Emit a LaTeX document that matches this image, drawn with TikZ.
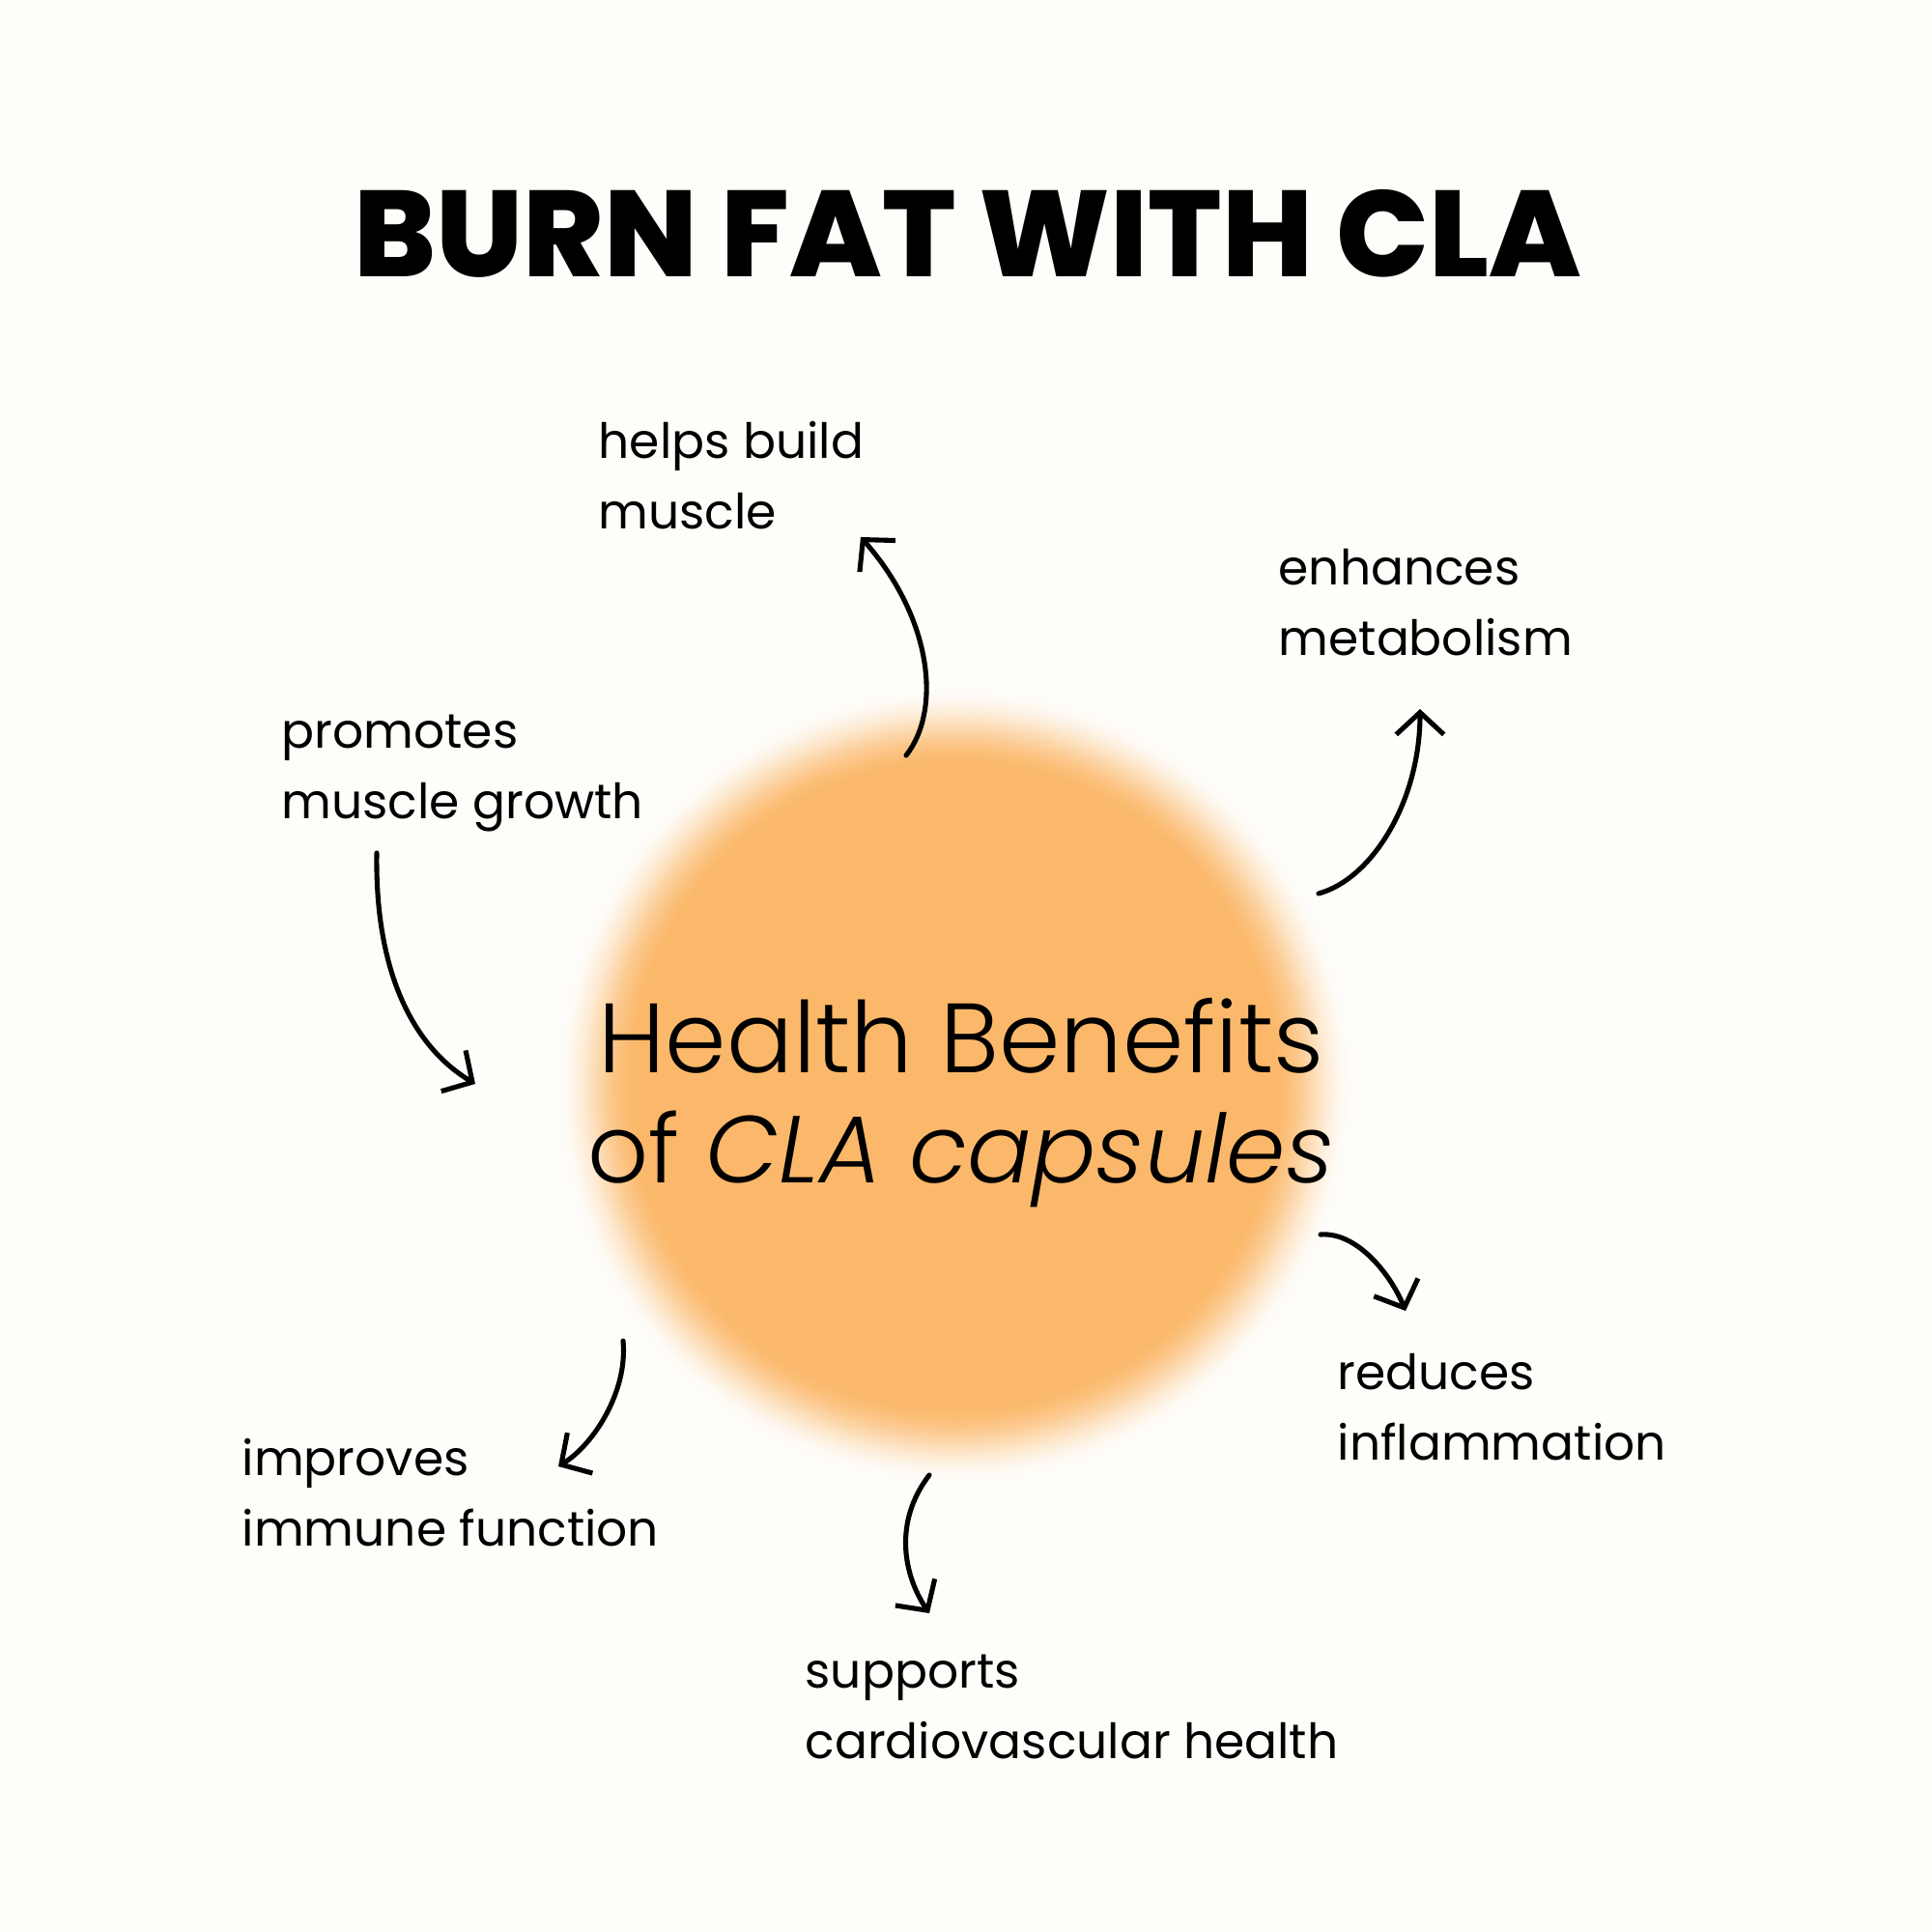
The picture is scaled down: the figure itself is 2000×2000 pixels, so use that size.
\documentclass[tikz,border=0pt]{standalone}
\usepackage{fontspec}
\setmainfont{Poppins}
\newfontfamily\cTitleFont{Poppins ExtraBold}
\newfontfamily\cLightFont{Poppins Light}[ItalicFont={Poppins Light Italic}]
\usetikzlibrary{arrows.meta}
\definecolor{cBack}{RGB}{254,253,250}
\definecolor{cOrange}{RGB}{251,184,106}
\tikzset{
    benefit/.style={anchor=base west, align=left, inner sep=0pt,
        font=\fontsize{14.3}{20.7}\selectfont},
    benefit arrow/.style={line width=1.45pt, line cap=round,
        -{Straight Barb[length=6.5pt, width=14pt]}}
}
\begin{document}
\begin{tikzpicture}[x=0.01cm, y=-0.01cm]
    \useasboundingbox (0, 0) rectangle (2000, 2000);
    \fill[cBack] (0, 0) rectangle (2000, 2000);
    \coordinate (blob) at (988, 1124);
    \foreach \cStep in {0, ..., 40}{
        \pgfmathsetmacro\cMix{100*(\cStep/40)^2*(3-2*\cStep/40)}
        \pgfmathsetmacro\cRad{4.14-\cStep*0.021}
        \fill[cOrange!\cMix!cBack] (blob) circle[radius=\cRad cm];
    }
    \node[anchor=base, inner sep=0pt, font=\cTitleFont\fontsize{36}{40}\selectfont] (title) at (1002, 287) {BURN FAT WITH CLA};
    \node[anchor=base, align=center, inner sep=0pt, font=\cLightFont\fontsize{29}{32.4}\selectfont] (topic) at (995, 1224) {Health Benefits\\\fontsize{28}{32.4}\selectfont of \textit{CLA capsules}};

    \node[benefit] (build) at (619, 547) {helps build\\muscle};
    \node[benefit] (metab) at (1323, 678) {enhances\\metabolism};
    \node[benefit] (growth) at (291, 847) {promotes\\muscle growth};
    \node[benefit] (inflam) at (1384, 1511) {reduces\\inflammation};
    \node[benefit] (immune) at (250, 1600) {improves\\immune function};
    \node[benefit] (cardio) at (833, 1820) {supports\\cardiovascular health};

    \coordinate (build from) at (938, 782);
    \coordinate (build to) at (891, 556);
    \coordinate (metab from) at (1365, 925);
    \coordinate (metab to) at (1470, 734);
    \coordinate (growth from) at (390, 883);
    \coordinate (growth to) at (492, 1122);
    \coordinate (inflam from) at (1367, 1278);
    \coordinate (inflam to) at (1455, 1357);
    \coordinate (immune from) at (645, 1388);
    \coordinate (immune to) at (578, 1518);
    \coordinate (cardio from) at (962, 1527);
    \coordinate (cardio to) at (962, 1670);

    \draw[benefit arrow] (build from) .. controls (975, 735) and (965, 640) .. (build to);
    \draw[benefit arrow] (metab from) .. controls (1420, 910) and (1470, 830) .. (metab to);
    \draw[benefit arrow] (growth from) .. controls (388, 1010) and (430, 1085) .. (growth to);
    \draw[benefit arrow] (inflam from) .. controls (1405, 1275) and (1440, 1320) .. (inflam to);
    \draw[benefit arrow] (immune from) .. controls (650, 1440) and (615, 1495) .. (immune to);
    \draw[benefit arrow] (cardio from) .. controls (925, 1575) and (935, 1630) .. (cardio to);
\end{tikzpicture}
\end{document}
